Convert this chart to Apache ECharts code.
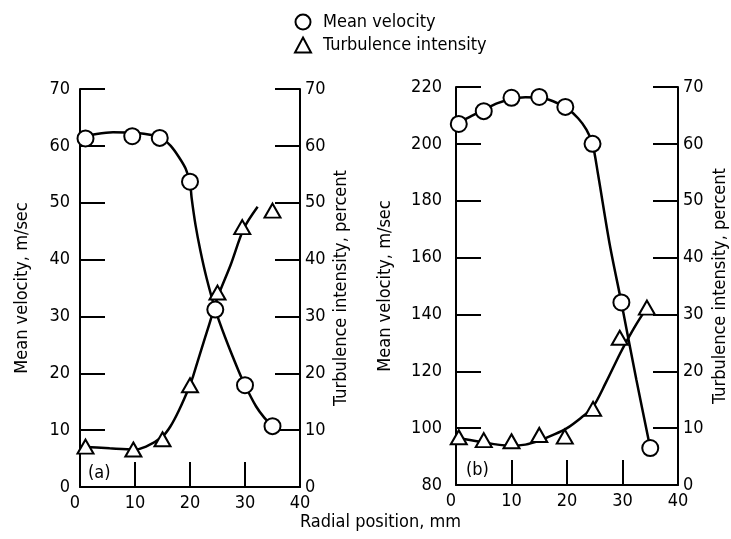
<!DOCTYPE html>
<html>
<head>
<meta charset="utf-8">
<script src="https://cdn.jsdelivr.net/npm/echarts@6/dist/echarts.min.js"></script>
<style>
    html, body { margin: 0; padding: 0; background: #fff; }
    #chart { width: 731px; height: 539px; }
</style>
</head>
<body>
<div id="chart"></div>
<script>
/* panel (a) measured points */
var radialVelA = [1, 9.5, 14.5, 20, 24.6, 30, 35];
var velocityA = [61.3, 61.7, 61.4, 53.7, 31.2, 17.9, 10.7];
var radialTurbA = [1, 9.7, 15, 20, 25, 29.5, 35];
var turbulenceA = [7.1, 6.6, 8.4, 17.9, 34.2, 45.7, 48.6];

/* panel (a) faired curves */
var curveVelXA = [0, 3, 6, 10, 13, 15, 16.5, 18, 19.2, 20, 20.3, 21, 21.9, 23, 24.6, 26.4, 28.8, 30, 32, 33.5, 35];
var curveVelYA = [61.5, 62.1, 62.4, 62.3, 61.9, 61.2, 60, 58, 56, 53.5, 50.8, 46.1, 41.5, 36.8, 31.2, 26.3, 20.5, 17.9, 14.2, 12.2, 10.7];
var curveTurbXA = [0, 5.4, 9.9, 12, 14.9, 16.4, 18, 20, 20.5, 22, 23.5, 25, 27.4, 29.8, 32.3];
var curveTurbYA = [7.1, 6.8, 6.6, 7.1, 8.8, 10.6, 13.5, 17.9, 19.3, 24, 28.6, 33.3, 39.1, 45.5, 49.3];

/* panel (b) measured points */
var radialVelB = [0.5, 5, 10, 15, 19.7, 24.6, 29.8, 35];
var velocityB = [207, 211.5, 216.2, 216.5, 213, 200, 144.2, 93];
var radialTurbB = [0.5, 5, 10, 15, 19.6, 24.7, 29.5, 34.4];
var turbulenceB = [8.4, 7.9, 7.7, 8.8, 8.5, 13.4, 25.9, 31.2];

/* panel (b) faired curves */
var curveVelXB = [0, 2.5, 5, 7.5, 10, 12.5, 15, 17.5, 20, 22, 23.5, 24.6, 25.6, 27.7, 29.8, 32.5, 35];
var curveVelYB = [207, 209.5, 212, 214.3, 215.8, 216.4, 216.3, 215, 212.5, 209, 205, 200, 189.2, 164.6, 144.2, 117, 93];
var curveTurbXB = [0, 2.5, 5, 7.5, 10, 12.5, 15, 17.5, 20, 22.5, 24.6, 27, 29.5, 30.8, 32.5, 34.4];
var curveTurbYB = [8.3, 7.9, 7.5, 7.1, 6.9, 7.1, 7.8, 8.8, 10, 11.8, 13.6, 18, 23, 25.4, 28.3, 31.2];

var fontFam = "'Liberation Sans Narrow', 'DejaVu Sans Condensed', sans-serif";

function zip(xs, ys) {
    var out = [];
    for (var i = 0; i < xs.length; i++) {
        out.push([xs[i], ys[i]]);
    }
    return out;
}

var chart = echarts.init(document.getElementById('chart'), null, {renderer: 'canvas'});

var lineStyleAxis = {color: '#000', width: 2};
var tickStyle = {show: true, inside: true, length: 25, lineStyle: {color: '#000', width: 2}};

function xAxisFor(grid) {
    return {
        type: 'value', gridIndex: grid, min: 0, max: 40, interval: 10,
        axisLine: {show: true, onZero: false, lineStyle: lineStyleAxis},
        axisTick: tickStyle,
        axisLabel: {color: '#000', fontSize: 18, fontFamily: fontFam, margin: 7, alignMinLabel: 'right'},
        splitLine: {show: false}
    };
}

function yAxisFor(grid, pos, min, max, interval, name, gap, margin) {
    return {
        type: 'value', gridIndex: grid, position: pos,
        min: min, max: max, interval: interval,
        name: name, nameLocation: 'middle', nameGap: gap, nameRotate: 90,
        nameTextStyle: {color: '#000', fontSize: 18, fontFamily: fontFam},
        axisLine: {show: true, onZero: false, lineStyle: lineStyleAxis},
        axisTick: tickStyle,
        axisLabel: {color: '#000', fontSize: 18, fontFamily: fontFam, margin: margin},
        splitLine: {show: false}
    };
}

var markStyle = {color: '#fff', borderColor: '#000', borderWidth: 2, opacity: 1};
var curveStyle = {color: '#000', width: 2.5};

option = {
    backgroundColor: '#fff',
    animation: false,
    legend: {
        data: ['Mean velocity', 'Turbulence intensity'],
        orient: 'vertical',
        left: 289,
        top: 8,
        itemWidth: 16,
        itemHeight: 15,
        itemGap: 5,
        textStyle: {color: '#000', fontSize: 18, fontFamily: fontFam, padding: [0, 0, 0, 7]}
    },
    grid: [
        {left: 80, top: 89, width: 220, height: 398},
        {left: 456, top: 87, width: 222, height: 398}
    ],
    xAxis: [xAxisFor(0), xAxisFor(1)],
    yAxis: [
        yAxisFor(0, 'left', 0, 70, 10, 'Mean velocity, m/sec', 49, 10),
        yAxisFor(0, 'right', 0, 70, 10, 'Turbulence intensity, percent', 32, 5),
        yAxisFor(1, 'left', 80, 220, 20, 'Mean velocity, m/sec', 62, 14),
        yAxisFor(1, 'right', 0, 70, 10, 'Turbulence intensity, percent', 33, 5)
    ],
    graphic: [
        {type: 'text', left: 88, top: 464, style: {text: '(a)', fill: '#000', font: '18px ' + fontFam}},
        {type: 'text', left: 466, top: 461, style: {text: '(b)', fill: '#000', font: '18px ' + fontFam}},
        {type: 'text', left: 300, top: 513, style: {text: 'Radial position, mm', fill: '#000', font: '18px ' + fontFam}}
    ],
    series: [
        {
            name: 'fitVelA', type: 'line', xAxisIndex: 0, yAxisIndex: 0, smooth: 0.3,
            showSymbol: false, silent: true, lineStyle: curveStyle,
            data: zip(curveVelXA, curveVelYA)
        },
        {
            name: 'fitTurbA', type: 'line', xAxisIndex: 0, yAxisIndex: 1, smooth: 0.3,
            showSymbol: false, silent: true, lineStyle: curveStyle,
            data: zip(curveTurbXA, curveTurbYA)
        },
        {
            name: 'fitVelB', type: 'line', xAxisIndex: 1, yAxisIndex: 2, smooth: 0.3,
            showSymbol: false, silent: true, lineStyle: curveStyle,
            data: zip(curveVelXB, curveVelYB)
        },
        {
            name: 'fitTurbB', type: 'line', xAxisIndex: 1, yAxisIndex: 3, smooth: 0.3,
            showSymbol: false, silent: true, lineStyle: curveStyle,
            data: zip(curveTurbXB, curveTurbYB)
        },
        {
            name: 'Mean velocity', type: 'scatter', xAxisIndex: 0, yAxisIndex: 0, z: 5,
            symbol: 'circle', symbolSize: 16, itemStyle: markStyle,
            data: zip(radialVelA, velocityA)
        },
        {
            name: 'Turbulence intensity', type: 'scatter', xAxisIndex: 0, yAxisIndex: 1, z: 5,
            symbol: 'triangle', symbolSize: [16, 14], itemStyle: markStyle,
            data: zip(radialTurbA, turbulenceA)
        },
        {
            name: 'Mean velocity', type: 'scatter', xAxisIndex: 1, yAxisIndex: 2, z: 5,
            symbol: 'circle', symbolSize: 16, itemStyle: markStyle,
            data: zip(radialVelB, velocityB)
        },
        {
            name: 'Turbulence intensity', type: 'scatter', xAxisIndex: 1, yAxisIndex: 3, z: 5,
            symbol: 'triangle', symbolSize: [16, 14], itemStyle: markStyle,
            data: zip(radialTurbB, turbulenceB)
        }
    ]
};

chart.setOption(option);
</script>
</body>
</html>
